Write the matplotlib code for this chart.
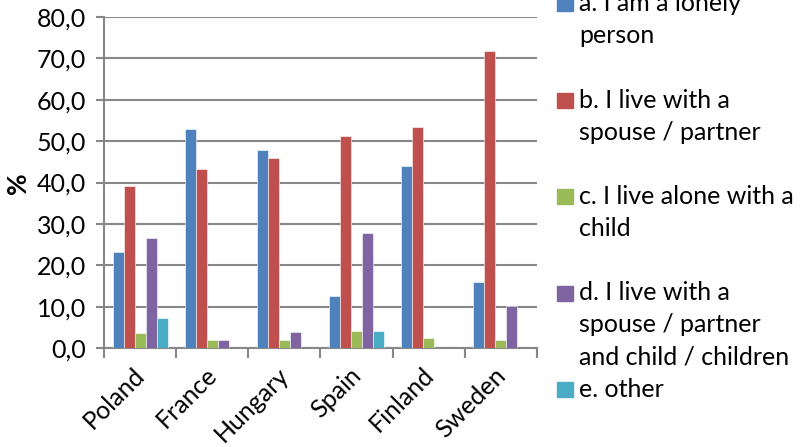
import numpy as np
import matplotlib.pyplot as plt
import matplotlib.transforms as mtransforms
from matplotlib.patches import Rectangle

countries = ['Poland', 'France', 'Hungary', 'Spain', 'Finland', 'Sweden']
series = ['a. I am a lonely\nperson',
          'b. I live with a\nspouse / partner',
          'c. I live alone with a\nchild',
          'd. I live with a\nspouse / partner\nand child / children',
          'e. other']
lonely = [23.1, 52.9, 47.9, 12.5, 43.9, 15.9]
partner = [39.2, 43.2, 45.9, 51.3, 53.5, 71.9]
alone_child = [3.6, 1.9, 1.9, 4.1, 2.4, 1.9]
partner_child = [26.7, 1.9, 3.9, 27.7, 0.0, 10.1]
other = [7.2, 0.0, 0.0, 4.1, 0.0, 0.0]
colors = ['#4F81BD', '#C0504D', '#9BBB59', '#8064A2', '#4BACC6']

plt.rcParams['font.family'] = ['Lato', 'DejaVu Sans']
fs = 18

fig = plt.figure(figsize=(8.08, 4.47), dpi=100)
ax = fig.add_axes([104/808, 1-348/447, 433/808, 331/447])

data = [lonely, partner, alone_child, partner_child, other]
x = np.arange(len(countries))
w = 0.152
for i, vals in enumerate(data):
    ax.bar(x + (i - 2) * w, vals, w, color=colors[i], edgecolor='white', linewidth=0.4, zorder=3)

ax.set_xlim(-0.5, len(countries) - 0.5)
ax.set_ylim(0, 80)
ax.set_yticks(np.arange(0, 81, 10))
ax.set_yticklabels([('%.1f' % v).replace('.', ',') for v in np.arange(0, 81, 10)], fontsize=fs)
ax.yaxis.grid(True, color='#878787', linewidth=1.5, zorder=0)
ax.tick_params(axis='y', length=6, width=1.5, color='#878787', pad=7)

ax.set_xticks(x)
ax.set_xticklabels(countries, rotation=45, ha='right', rotation_mode='anchor', fontsize=fs)
ax.set_xticks(np.arange(-0.5, len(countries)), minor=True)
ax.tick_params(axis='x', which='major', length=0, pad=11)
ax.tick_params(axis='x', which='minor', length=7, width=1.5, color='#878787')
# nudge the rotated labels a little to the left
shift = mtransforms.ScaledTranslation(-7/100, 0, fig.dpi_scale_trans)
for lbl in ax.get_xticklabels():
    lbl.set_transform(lbl.get_transform() + shift)

for s in ['top', 'right']:
    ax.spines[s].set_visible(False)
for s in ['left', 'bottom']:
    ax.spines[s].set_color('#878787')
    ax.spines[s].set_linewidth(1.5)

fig.text(18/808, 1-183/447, '%', rotation=90, fontsize=fs + 1, fontweight='bold', ha='center', va='center')

# legend drawn by hand, entries on a fixed pitch
for i, lab in enumerate(series):
    yc = 3.5 + i * 96.5
    fig.patches.append(Rectangle((557/808, 1-(yc+7.5)/447), 16/808, 15/447,
                                 transform=fig.transFigure, color=colors[i]))
    for j, line in enumerate(lab.split('\n')):
        fig.text(579/808, 1-(yc + 32*j)/447, line, fontsize=fs, ha='left', va='center')

fig.savefig('out.png', dpi=100)
